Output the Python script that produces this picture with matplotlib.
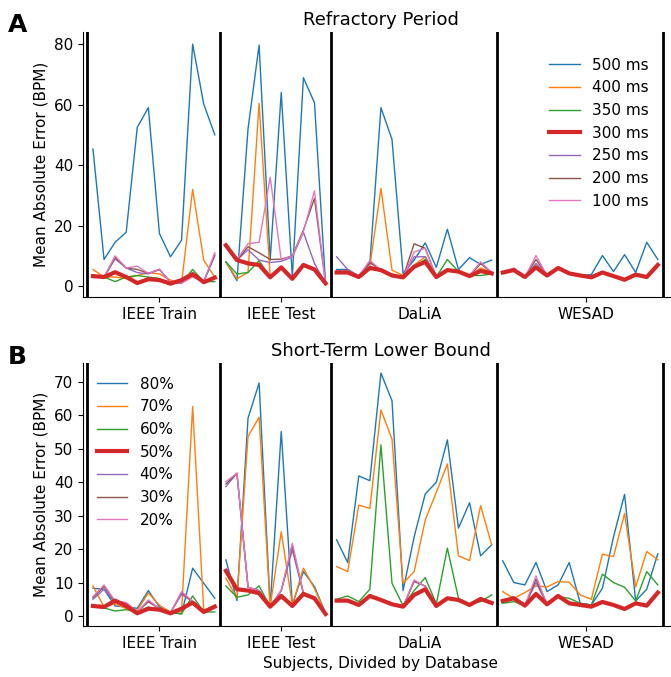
import numpy as np
import matplotlib
matplotlib.use('Agg')
import matplotlib.pyplot as plt

databases = ['IEEE Train', 'IEEE Test', 'DaLiA', 'WESAD']
n_subjects = [12, 10, 15, 15]

# Panel A: refractory period (IEEE Train | IEEE Test | DaLiA | WESAD)
rp_labels = ['500 ms', '400 ms', '350 ms', '300 ms', '250 ms', '200 ms', '100 ms']
rp_500 = [45.3, 8.8, 14.5, 17.8, 52.5, 59, 17.4, 9.7, 15.2, 80, 60.2, 50,
          8, 1.8, 52, 79.7, 8.6, 64, 3, 68.9, 60.6, 0.9,
          5.5, 5.5, 3.3, 7.5, 59, 48.5, 4.2, 8.6, 14.3, 6.2, 18.8, 5.5, 9.4, 7.2, 8.6,
          4.5, 5.3, 3, 6.2, 3.5, 6, 4.2, 3.5, 3.8, 10.1, 4.8, 10.4, 4.5, 14.5, 8.8]
rp_400 = [5.5, 3, 3, 2.5, 3.5, 4.5, 4, 2, 1, 32, 8.6, 3,
          8, 2.4, 4.6, 60.4, 3, 6, 2.4, 7, 5.5, 0.9,
          5, 5, 3.3, 6.5, 32.3, 5.3, 3.5, 7, 9.7, 3, 5, 4.5, 3.5, 6, 4.5,
          4.5, 5.3, 3, 6.5, 3.5, 6, 4.2, 3.5, 2.9, 4.5, 3.3, 2.1, 3.8, 3, 7]
rp_350 = [3, 3, 1.5, 3, 3.5, 3, 2.5, 1, 1, 5.5, 1.5, 1.5,
          8, 4, 4.5, 8.4, 3, 6, 2.5, 6.5, 5.5, 0.9,
          5, 5, 3.3, 6, 5, 4, 3, 6.5, 8.8, 3, 8.8, 4.8, 3.5, 3.5, 4,
          4.5, 5.3, 3, 6.2, 3.5, 6, 4.2, 3.5, 2.9, 4.5, 3.3, 2.1, 3.8, 3, 7]
rp_300 = [3.3, 3, 4.6, 3, 1, 2.3, 2, 0.8, 2, 4, 1.3, 2.8,
          13.5, 8.6, 7.5, 7, 2.9, 6.2, 2.4, 7, 5.5, 0.9,
          4.5, 4.5, 3, 6, 5.3, 3.5, 2.9, 6.4, 8, 3, 5.3, 4.8, 3.3, 5, 4.2,
          4.5, 5.3, 3, 6.2, 3.5, 6, 4.2, 3.5, 2.9, 4.5, 3.3, 2.1, 3.8, 3, 7]
rp_250 = [3, 3, 9, 6, 4.5, 4, 5.5, 1.2, 1, 3.5, 1.5, 10,
          13, 8.6, 12, 8.6, 7.8, 8.2, 9.6, 17.8, 7.5, 0.9,
          9.7, 5.5, 3.3, 7.8, 5.3, 3.5, 3, 9.7, 9.7, 3, 5.5, 4.8, 3.5, 7.5, 4.5,
          4.5, 5.5, 3, 7.5, 3.5, 6, 4.2, 3.5, 2.9, 4.5, 3.3, 2.1, 3.8, 3, 7]
rp_200 = [3, 3, 9.5, 6, 5.5, 4.2, 5.5, 1.2, 1, 3.5, 1.5, 10.5,
          13, 8.6, 13, 11, 8.8, 8.9, 10, 18.5, 29, 0.9,
          5, 5, 3.3, 7.8, 5.3, 3.5, 3, 14, 12.5, 3, 5.5, 4.8, 3.5, 7.5, 4.5,
          4.5, 5.8, 3, 8.8, 3.5, 6, 4.2, 3.5, 2.9, 4.5, 3.3, 2.1, 3.8, 3, 7]
rp_100 = [3, 3, 10, 6, 6.6, 4.2, 5.6, 1.2, 1, 3, 1.5, 11,
          13, 8.9, 14, 14.5, 36, 8.7, 9.9, 18, 31.5, 0.9,
          5, 5, 3.3, 8.5, 5.3, 3.5, 3, 11.3, 12.5, 3, 5.5, 4.8, 3.5, 8, 4.5,
          4.5, 6, 3, 10.1, 3.5, 6, 4.2, 3.5, 2.9, 4.5, 3.3, 2.1, 3.8, 3, 7]

# Panel B: short-term lower bound
lb_labels = ['80%', '70%', '60%', '50%', '40%', '30%', '20%']
lb_80 = [8.3, 8, 3, 2.7, 2.3, 7.6, 2.7, 1, 0.6, 14.3, 9.8, 5.3,
         16.8, 4.6, 59.2, 69.7, 2.8, 55.2, 3.3, 13.3, 8.8, 0.8,
         22.8, 16, 41.9, 40.5, 72.7, 64.4, 7.6, 23.7, 36.5, 40, 52.7, 26.3, 33.9, 18, 21.3,
         16.5, 10, 9.3, 16, 7.3, 9.3, 16, 3.8, 3.3, 8.3, 23.7, 36.4, 4.5, 8, 18.6]
lb_70 = [9, 2.7, 3.7, 2.2, 1.7, 6.9, 3.2, 1.2, 1.2, 62.7, 1.7, 3.2,
         11.3, 5.3, 53.7, 59.5, 2.8, 25.2, 3.3, 14.3, 8.2, 0.8,
         14.8, 13.3, 33.2, 32.2, 61.7, 52.9, 9.8, 13.3, 28.7, 37, 45.5, 18, 16.6, 33, 21.3,
         7.3, 5.3, 7, 9, 8.7, 10.3, 10.1, 6.3, 5, 18.5, 17.8, 30.7, 8.7, 19.3, 16.8]
lb_60 = [2.7, 2.4, 1.5, 1.9, 1.2, 2.7, 1.7, 1, 0.7, 6, 1.2, 1.2,
         9, 5.6, 6.3, 9, 2.8, 6, 3.3, 7, 5.5, 0.8,
         5, 6, 4.3, 8, 51.2, 9.8, 3.1, 7.6, 11.5, 3.6, 20.3, 5.3, 3.5, 4.3, 6.3,
         3.8, 4.3, 3.1, 6.6, 3.8, 5.8, 5.3, 3.8, 3.3, 12.5, 10, 8.6, 4.5, 13.3, 9.3]
lb_50 = [3, 2.7, 4.6, 3, 0.8, 2.2, 1.9, 0.8, 2.2, 4, 1.2, 2.8,
         13.5, 8, 7.6, 6.8, 2.8, 6, 3, 6.6, 5.3, 0.6,
         4.6, 4.6, 3.3, 6, 4.8, 3.5, 2.8, 6.3, 8, 3, 5.3, 4.8, 3.3, 5.1, 3.9,
         4.5, 5.3, 3.1, 6.6, 3.5, 6, 3.8, 3.3, 2.8, 4.2, 3.3, 2.1, 3.8, 3.1, 7]
lb_40 = [5, 8, 4, 3.8, 1.2, 4.2, 2.2, 1, 6.5, 4.2, 1.5, 2.7,
         38.7, 42.7, 8.6, 7.6, 2.8, 7.6, 19.8, 6.8, 5.3, 0.8,
         4.6, 4.6, 3.3, 6, 4.8, 3.5, 2.8, 10.3, 9, 3, 5.3, 4.8, 3.3, 5.1, 3.9,
         4.5, 5.5, 3.1, 10, 3.5, 6, 3.8, 3.3, 2.8, 4.2, 3.3, 2.1, 3.8, 3.1, 7]
lb_30 = [5.5, 8.8, 4.3, 4, 1.2, 4.5, 2.2, 1, 7, 4.3, 1.5, 2.7,
         39.5, 42.7, 8.6, 7.6, 2.8, 7.6, 21, 6.8, 5.3, 0.8,
         4.6, 4.6, 3.3, 6, 4.8, 3.5, 2.8, 10.5, 8.9, 3, 5.3, 4.8, 3.3, 5.1, 3.9,
         4.5, 5.6, 3.1, 11, 3.5, 6, 3.8, 3.3, 2.8, 4.2, 3.3, 2.1, 3.8, 3.1, 7]
lb_20 = [5.8, 9.3, 4.5, 4, 1.2, 4.8, 2.2, 1, 7.3, 4.4, 1.5, 2.7,
         40.2, 42.7, 8.6, 7.6, 2.8, 7.6, 21.8, 6.8, 5.3, 0.8,
         4.6, 4.6, 3.3, 6, 4.8, 3.5, 2.8, 10.8, 8.8, 3, 5.3, 4.8, 3.3, 5.1, 3.9,
         4.5, 5.8, 3.1, 12, 3.5, 6, 3.8, 3.3, 2.8, 4.2, 3.3, 2.1, 3.8, 3.1, 7]

colors = ['tab:blue', 'tab:orange', 'tab:green', 'tab:red',
          'tab:purple', 'tab:brown', 'tab:pink']


def draw_panel(ax, series, labels, title, ylim):
    x = np.arange(sum(n_subjects))
    starts = np.cumsum([0] + n_subjects[:-1])
    for i, (y, lab) in enumerate(zip(series, labels)):
        y = np.asarray(y)
        lw, z = (3, 3) if i == 3 else (1, 2)
        # each database is its own segment, not joined to the next one
        for k, (s, n) in enumerate(zip(starts, n_subjects)):
            ax.plot(x[s:s + n], y[s:s + n], color=colors[i], lw=lw, zorder=z,
                    label=lab if k == 0 else None)
    edges = np.cumsum([0] + n_subjects) - 0.5
    for e in edges:
        ax.axvline(e, color='black', lw=2, zorder=4)
    ax.set_xticks(starts + np.array(n_subjects) / 2)
    ax.set_xticklabels(databases, fontsize=11)
    ax.tick_params(axis='y', labelsize=11)
    ax.set_xlim(-0.9, 52.9)
    ax.set_ylim(*ylim)
    ax.spines['top'].set_visible(False)
    ax.spines['right'].set_visible(False)
    ax.set_ylabel('Mean Absolute Error (BPM)', fontsize=11)
    ax.set_title(title, fontsize=13, pad=5)


fig = plt.figure(figsize=(6.71, 6.77), dpi=100)
ax_a = fig.add_axes([0.1237, 0.5613, 0.888, 0.3914])
ax_b = fig.add_axes([0.1237, 0.0753, 0.888, 0.3885])

draw_panel(ax_a, [rp_500, rp_400, rp_350, rp_300, rp_250, rp_200, rp_100],
           rp_labels, 'Refractory Period', (-3.6, 84))
ax_a.legend(loc='upper right', bbox_to_anchor=(0.973, 0.955), frameon=False,
            fontsize=11)

draw_panel(ax_b, [lb_80, lb_70, lb_60, lb_50, lb_40, lb_30, lb_20],
           lb_labels, 'Short-Term Lower Bound', (-3.0, 75.7))
ax_b.legend(loc='upper left', frameon=False, fontsize=11)
ax_b.set_xlabel('Subjects, Divided by Database', fontsize=11)

fig.text(0.012, 0.953, 'A', fontsize=18, fontweight='bold')
fig.text(0.012, 0.462, 'B', fontsize=18, fontweight='bold')

fig.savefig('out.png', dpi=100)
